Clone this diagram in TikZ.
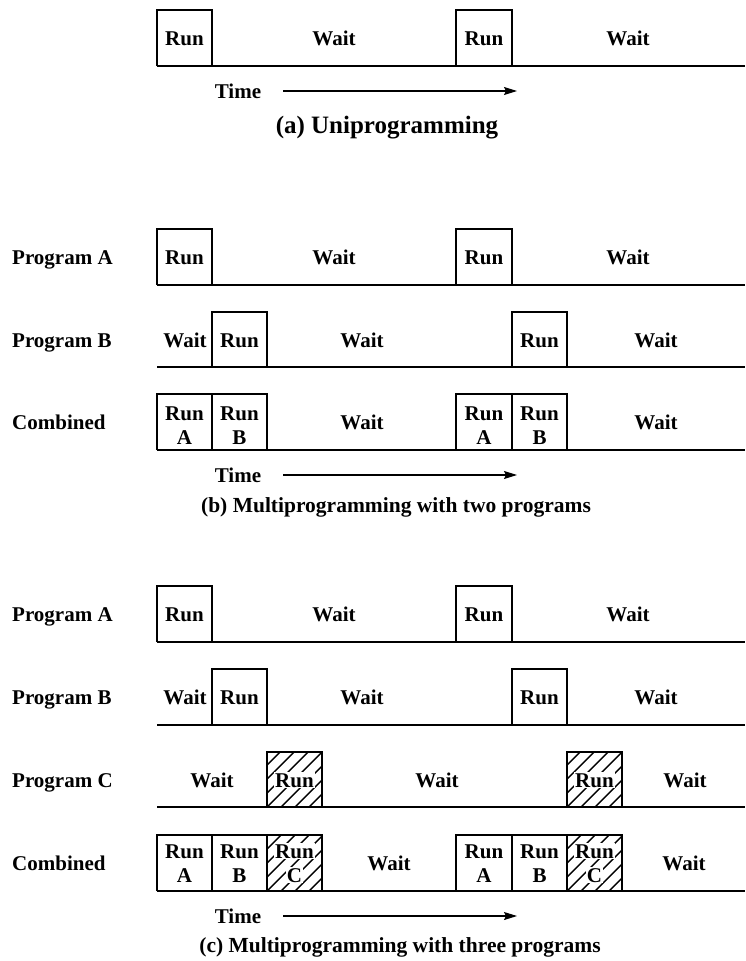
\documentclass[tikz,border=0pt]{standalone}
\usepackage{fontspec}
\setmainfont{Liberation Serif}
\usetikzlibrary{arrows.meta}

% Run boxes: three sides of a rectangle standing on the time line
\newcommand\runbox[4]{\draw[boxline] (#1,#4) -- (#1,#3) -- (#2,#3) -- (#2,#4);}
% Hatched run boxes of program C
\newcommand\hatchbox[4]{%
  \begin{scope}
    \clip (#1,#3) rectangle (#2,#4);
    \foreach \k in {-70,-56,...,70}{\draw[hatch] ({#1+\k},#4) -- ++(70,-70);}
  \end{scope}
  \runbox{#1}{#2}{#3}{#4}}

\begin{document}
\begin{tikzpicture}[x=1pt,y=-1pt,
  lbl/.style={font=\fontsize{21}{24}\selectfont\bfseries, inner sep=0pt, anchor=base},
  rowlbl/.style={lbl, anchor=base west},
  onhatch/.style={lbl, fill=white, inner sep=1.2pt},
  caption/.style={font=\fontsize{21.5}{24}\selectfont\bfseries, inner sep=0pt, anchor=base},
  baseline/.style={line width=1.6pt},
  boxline/.style={line width=1.1pt},
  hatch/.style={line width=1.4pt},
  timearrow/.style={line width=1.1pt, -{Stealth[length=13pt, width=8pt, inset=2pt]}}]
\useasboundingbox (0,0) rectangle (745,961);

% ---------------- (a) Uniprogramming ----------------
\draw[baseline] (157,66) -- (745,66);
\runbox{157}{212}{10}{66}
\runbox{456}{512}{10}{66}
\node[lbl] (ar1) at (184.5,45) {Run};
\node[lbl] (aw1) at (334,45) {Wait};
\node[lbl] (ar2) at (484,45) {Run};
\node[lbl] (aw2) at (628,45) {Wait};
\node[lbl] (atime) at (238,98) {Time};
\coordinate (aa0) at (283,91);
\coordinate (aa1) at (517,91);
\draw[timearrow] (aa0) -- (aa1);
\node[caption, font=\fontsize{25}{28}\selectfont\bfseries] (acap) at (387,133) {(a) Uniprogramming};

% ---------------- (b) two programs ----------------
% Program A
\node[rowlbl] (bla) at (12,264) {Program A};
\draw[baseline] (157,285) -- (745,285);
\runbox{157}{212}{229}{285}
\runbox{456}{512}{229}{285}
\node[lbl] (bar1) at (184.5,264) {Run};
\node[lbl] (baw1) at (334,264) {Wait};
\node[lbl] (bar2) at (484,264) {Run};
\node[lbl] (baw2) at (628,264) {Wait};
% Program B
\node[rowlbl] (blb) at (12,347) {Program B};
\draw[baseline] (157,367) -- (745,367);
\runbox{212}{267}{312}{367}
\runbox{512}{567}{312}{367}
\node[lbl] (bbw0) at (185,347) {Wait};
\node[lbl] (bbr1) at (239.5,347) {Run};
\node[lbl] (bbw1) at (362,347) {Wait};
\node[lbl] (bbr2) at (539.5,347) {Run};
\node[lbl] (bbw2) at (656,347) {Wait};
% Combined
\node[rowlbl] (blc) at (12,429) {Combined};
\draw[baseline] (157,450) -- (745,450);
\runbox{157}{212}{394}{450}
\runbox{212}{267}{394}{450}
\runbox{456}{512}{394}{450}
\runbox{512}{567}{394}{450}
\node[lbl] (bcr1) at (184.5,420) {Run};
\node[lbl] (bca1) at (184.5,444) {A};
\node[lbl] (bcr2) at (239.5,420) {Run};
\node[lbl] (bcb1) at (239.5,444) {B};
\node[lbl] (bcw1) at (362,429) {Wait};
\node[lbl] (bcr3) at (484,420) {Run};
\node[lbl] (bca2) at (484,444) {A};
\node[lbl] (bcr4) at (539.5,420) {Run};
\node[lbl] (bcb2) at (539.5,444) {B};
\node[lbl] (bcw2) at (656,429) {Wait};
\node[lbl] (btime) at (238,482) {Time};
\coordinate (ba0) at (283,475);
\coordinate (ba1) at (517,475);
\draw[timearrow] (ba0) -- (ba1);
\node[caption] (bcap) at (396,512) {(b) Multiprogramming with two programs};

% ---------------- (c) three programs ----------------
% Program A
\node[rowlbl] (cla) at (12,621) {Program A};
\draw[baseline] (157,642) -- (745,642);
\runbox{157}{212}{586}{642}
\runbox{456}{512}{586}{642}
\node[lbl] (car1) at (184.5,621) {Run};
\node[lbl] (caw1) at (334,621) {Wait};
\node[lbl] (car2) at (484,621) {Run};
\node[lbl] (caw2) at (628,621) {Wait};
% Program B
\node[rowlbl] (clb) at (12,704) {Program B};
\draw[baseline] (157,725) -- (745,725);
\runbox{212}{267}{669}{725}
\runbox{512}{567}{669}{725}
\node[lbl] (cbw0) at (185,704) {Wait};
\node[lbl] (cbr1) at (239.5,704) {Run};
\node[lbl] (cbw1) at (362,704) {Wait};
\node[lbl] (cbr2) at (539.5,704) {Run};
\node[lbl] (cbw2) at (656,704) {Wait};
% Program C
\node[rowlbl] (clc) at (12,787) {Program C};
\draw[baseline] (157,807) -- (745,807);
\hatchbox{267}{322}{752}{807}
\hatchbox{567}{622}{752}{807}
\node[lbl] (ccw0) at (212,787) {Wait};
\node[onhatch] (ccr1) at (294.5,787) {Run};
\node[lbl] (ccw1) at (437,787) {Wait};
\node[onhatch] (ccr2) at (594.5,787) {Run};
\node[lbl] (ccw2) at (685,787) {Wait};
% Combined
\node[rowlbl] (cld) at (12,870) {Combined};
\draw[baseline] (157,891) -- (745,891);
\runbox{157}{212}{835}{891}
\runbox{212}{267}{835}{891}
\hatchbox{267}{322}{835}{891}
\runbox{456}{512}{835}{891}
\runbox{512}{567}{835}{891}
\hatchbox{567}{622}{835}{891}
\node[lbl] (cdr1) at (184.5,858) {Run};
\node[lbl] (cda1) at (184.5,882) {A};
\node[lbl] (cdr2) at (239.5,858) {Run};
\node[lbl] (cdb1) at (239.5,882) {B};
\node[onhatch] (cdr3) at (294.5,858) {Run};
\node[onhatch] (cdc1) at (294.5,882) {C};
\node[lbl] (cdw1) at (389,870) {Wait};
\node[lbl] (cdr4) at (484,858) {Run};
\node[lbl] (cda2) at (484,882) {A};
\node[lbl] (cdr5) at (539.5,858) {Run};
\node[lbl] (cdb2) at (539.5,882) {B};
\node[onhatch] (cdr6) at (594.5,858) {Run};
\node[onhatch] (cdc2) at (594.5,882) {C};
\node[lbl] (cdw2) at (684,870) {Wait};
\node[lbl] (ctime) at (238,923) {Time};
\coordinate (ca0) at (283,916);
\coordinate (ca1) at (517,916);
\draw[timearrow] (ca0) -- (ca1);
\node[caption] (ccap) at (400,952) {(c) Multiprogramming with three programs};
\end{tikzpicture}
\end{document}
